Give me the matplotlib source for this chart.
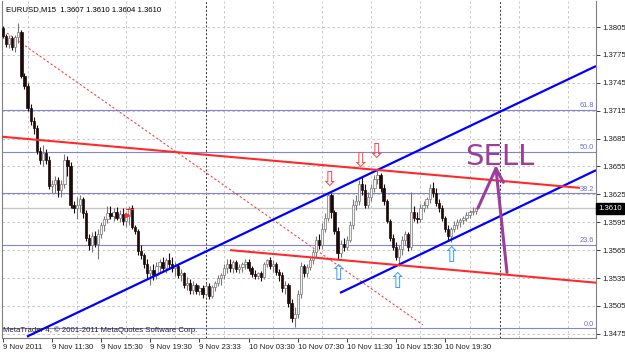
import matplotlib

matplotlib.use("Agg")
import matplotlib.pyplot as plt
import matplotlib.transforms as mtransforms
import numpy as np

# EURUSD M15, 9 Nov 07:30 .. 10 Nov 22:00, one entry per bar
opens = [1.3804, 1.3795, 1.3787, 1.3793, 1.3784, 1.3794, 1.3800, 1.3752, 1.3742, 1.3718,
         1.3704, 1.3696, 1.3672, 1.3662, 1.3670, 1.3662, 1.3634, 1.3636, 1.3640, 1.3630,
         1.3636, 1.3662, 1.3655, 1.3614, 1.3610, 1.3614, 1.3620, 1.3605, 1.3578, 1.3570,
         1.3580, 1.3572, 1.3582, 1.3592, 1.3598, 1.3605, 1.3602, 1.3606, 1.3600, 1.3604,
         1.3596, 1.3602, 1.3610, 1.3590, 1.3586, 1.3564, 1.3560, 1.3550, 1.3540, 1.3544,
         1.3538, 1.3548, 1.3552, 1.3546, 1.3554, 1.3550, 1.3546, 1.3548, 1.3538, 1.3540,
         1.3528, 1.3530, 1.3522, 1.3528, 1.3521, 1.3524, 1.3518, 1.3526, 1.3516, 1.3525,
         1.3530, 1.3535, 1.3538, 1.3546, 1.3550, 1.3546, 1.3552, 1.3545, 1.3547, 1.3550,
         1.3552, 1.3546, 1.3539, 1.3537, 1.3540, 1.3536, 1.3550, 1.3554, 1.3548, 1.3550,
         1.3542, 1.3538, 1.3524, 1.3528, 1.3508, 1.3492, 1.3496, 1.3518, 1.3548, 1.3540,
         1.3547, 1.3554, 1.3563, 1.3576, 1.3570, 1.3588, 1.3600, 1.3624, 1.3606, 1.3586,
         1.3562, 1.3572, 1.3568, 1.3576, 1.3592, 1.3614, 1.3618, 1.3636, 1.3630, 1.3614,
         1.3622, 1.3632, 1.3642, 1.3646, 1.3632, 1.3618, 1.3596, 1.3578, 1.3568, 1.3558,
         1.3566, 1.3576, 1.3582, 1.3568, 1.3606, 1.3600, 1.3598, 1.3610, 1.3614, 1.3620,
         1.3632, 1.3626, 1.3616, 1.3610, 1.3600, 1.3588, 1.3580, 1.3588, 1.3592, 1.3595,
         1.3597, 1.3600, 1.3603, 1.3606, 1.3607]
highs = [1.3806, 1.3798, 1.3796, 1.3795, 1.3796, 1.3809, 1.3802, 1.3756, 1.3745, 1.3722,
         1.3708, 1.3700, 1.3676, 1.3678, 1.3674, 1.3666, 1.3640, 1.3645, 1.3644, 1.3640,
         1.3668, 1.3666, 1.3660, 1.3618, 1.3622, 1.3624, 1.3622, 1.3608, 1.3582, 1.3584,
         1.3586, 1.3588, 1.3595, 1.3602, 1.3612, 1.3613, 1.3610, 1.3611, 1.3608, 1.3610,
         1.3605, 1.3613, 1.3614, 1.3592, 1.3588, 1.3570, 1.3562, 1.3555, 1.3548, 1.3550,
         1.3552, 1.3556, 1.3558, 1.3557, 1.3562, 1.3558, 1.3552, 1.3550, 1.3545, 1.3542,
         1.3536, 1.3534, 1.3532, 1.3530, 1.3528, 1.3528, 1.3530, 1.3530, 1.3528, 1.3532,
         1.3538, 1.3540, 1.3550, 1.3555, 1.3556, 1.3554, 1.3554, 1.3550, 1.3552, 1.3556,
         1.3556, 1.3548, 1.3544, 1.3542, 1.3543, 1.3552, 1.3556, 1.3558, 1.3554, 1.3552,
         1.3545, 1.3541, 1.3532, 1.3530, 1.3512, 1.3504, 1.3522, 1.3552, 1.3550, 1.3550,
         1.3558, 1.3566, 1.3580, 1.3582, 1.3594, 1.3605, 1.3628, 1.3626, 1.3608, 1.3590,
         1.3576, 1.3578, 1.3580, 1.3596, 1.3620, 1.3624, 1.3640, 1.3644, 1.3636, 1.3628,
         1.3636, 1.3646, 1.3652, 1.3648, 1.3636, 1.3620, 1.3598, 1.3582, 1.3574, 1.3570,
         1.3580, 1.3586, 1.3584, 1.3628, 1.3612, 1.3606, 1.3615, 1.3618, 1.3622, 1.3636,
         1.3638, 1.3632, 1.3620, 1.3614, 1.3602, 1.3592, 1.3590, 1.3596, 1.3598, 1.3600,
         1.3602, 1.3606, 1.3608, 1.3611, 1.3610]
lows = [1.3793, 1.3783, 1.3782, 1.3780, 1.3778, 1.3788, 1.3750, 1.3738, 1.3715, 1.3700,
        1.3690, 1.3668, 1.3658, 1.3655, 1.3658, 1.3631, 1.3626, 1.3626, 1.3622, 1.3622,
        1.3632, 1.3645, 1.3610, 1.3605, 1.3598, 1.3606, 1.3600, 1.3575, 1.3565, 1.3563,
        1.3568, 1.3556, 1.3578, 1.3586, 1.3594, 1.3598, 1.3596, 1.3597, 1.3595, 1.3592,
        1.3590, 1.3592, 1.3588, 1.3582, 1.3560, 1.3555, 1.3546, 1.3535, 1.3528, 1.3533,
        1.3534, 1.3540, 1.3542, 1.3540, 1.3545, 1.3542, 1.3537, 1.3535, 1.3532, 1.3524,
        1.3522, 1.3518, 1.3518, 1.3518, 1.3517, 1.3514, 1.3516, 1.3512, 1.3514, 1.3521,
        1.3526, 1.3528, 1.3534, 1.3540, 1.3542, 1.3540, 1.3542, 1.3540, 1.3541, 1.3545,
        1.3543, 1.3536, 1.3534, 1.3534, 1.3532, 1.3534, 1.3547, 1.3545, 1.3542, 1.3538,
        1.3532, 1.3520, 1.3518, 1.3504, 1.3488, 1.3482, 1.3492, 1.3514, 1.3536, 1.3536,
        1.3544, 1.3550, 1.3558, 1.3566, 1.3566, 1.3584, 1.3596, 1.3600, 1.3582, 1.3555,
        1.3558, 1.3564, 1.3565, 1.3574, 1.3588, 1.3608, 1.3614, 1.3624, 1.3610, 1.3610,
        1.3618, 1.3628, 1.3636, 1.3628, 1.3614, 1.3594, 1.3575, 1.3565, 1.3554, 1.3548,
        1.3560, 1.3570, 1.3564, 1.3565, 1.3596, 1.3594, 1.3595, 1.3606, 1.3610, 1.3616,
        1.3622, 1.3612, 1.3606, 1.3596, 1.3585, 1.3576, 1.3574, 1.3584, 1.3588, 1.3590,
        1.3593, 1.3596, 1.3600, 1.3603, 1.3604]
closes = [1.3795, 1.3787, 1.3793, 1.3784, 1.3794, 1.3800, 1.3752, 1.3742, 1.3718, 1.3704,
          1.3696, 1.3672, 1.3662, 1.3670, 1.3662, 1.3634, 1.3636, 1.3640, 1.3630, 1.3636,
          1.3662, 1.3655, 1.3614, 1.3610, 1.3614, 1.3620, 1.3605, 1.3578, 1.3570, 1.3580,
          1.3572, 1.3582, 1.3592, 1.3598, 1.3605, 1.3602, 1.3606, 1.3600, 1.3604, 1.3596,
          1.3602, 1.3610, 1.3590, 1.3586, 1.3564, 1.3560, 1.3550, 1.3540, 1.3544, 1.3538,
          1.3548, 1.3552, 1.3546, 1.3554, 1.3550, 1.3546, 1.3548, 1.3538, 1.3540, 1.3528,
          1.3530, 1.3522, 1.3528, 1.3521, 1.3524, 1.3518, 1.3526, 1.3516, 1.3525, 1.3530,
          1.3535, 1.3538, 1.3546, 1.3550, 1.3546, 1.3552, 1.3545, 1.3547, 1.3550, 1.3552,
          1.3546, 1.3539, 1.3537, 1.3540, 1.3536, 1.3550, 1.3554, 1.3548, 1.3550, 1.3542,
          1.3538, 1.3524, 1.3528, 1.3508, 1.3492, 1.3496, 1.3518, 1.3548, 1.3540, 1.3547,
          1.3554, 1.3563, 1.3576, 1.3570, 1.3588, 1.3600, 1.3624, 1.3606, 1.3586, 1.3562,
          1.3572, 1.3568, 1.3576, 1.3592, 1.3614, 1.3618, 1.3636, 1.3630, 1.3614, 1.3622,
          1.3632, 1.3642, 1.3646, 1.3632, 1.3618, 1.3596, 1.3578, 1.3568, 1.3558, 1.3566,
          1.3576, 1.3582, 1.3568, 1.3606, 1.3600, 1.3598, 1.3610, 1.3614, 1.3620, 1.3632,
          1.3626, 1.3616, 1.3610, 1.3600, 1.3588, 1.3580, 1.3588, 1.3592, 1.3595, 1.3597,
          1.3600, 1.3603, 1.3606, 1.3607, 1.3610]

time_labels = ["9 Nov 2011", "9 Nov 11:30", "9 Nov 15:30", "9 Nov 19:30", "9 Nov 23:33",
               "10 Nov 03:30", "10 Nov 07:30", "10 Nov 11:30", "10 Nov 15:30", "10 Nov 19:30"]
time_label_bars = [0, 16, 32, 48, 64, 80, 96, 112, 128, 144]
day_separator_bars = [66, 162]
price_ticks = [1.3475, 1.3505, 1.3535, 1.3565, 1.3595, 1.3625,
               1.3655, 1.3685, 1.3715, 1.3745, 1.3775, 1.3805]

fib_names = ["0.0", "23.6", "38.2", "50.0", "61.8"]
fib_prices = [1.3481, 1.3571, 1.3626, 1.3671, 1.3716]

# trend lines as (bar, price) anchor pairs
blue_lines = [((7.8, 1.3472), (193.2, 1.3763)), ((109.8, 1.3519), (193.2, 1.3651))]
red_lines = [((-0.3, 1.3687), (188.0, 1.3632)), ((74.0, 1.3565), (193.2, 1.3530))]
red_dashed = ((1.3, 1.37985), (136.8, 1.34846))

sell_arrows_at = [(106.2, 1.3641), (116.3, 1.3661), (121.5, 1.3671)]
buy_arrows_at = [(109.1, 1.3539), (128.3, 1.3531), (145.9, 1.3559)]

header = "EURUSD,M15  1.3607 1.3610 1.3604 1.3610"
footer = "MetaTrader 4, \u00a9 2001-2011 MetaQuotes Software Corp."
last_price = 1.3610

FONT = "Liberation Sans"
BULL_EDGE = "#777777"
BULL_FACE = "#f4f4f4"
BEAR_COLOR = "#1c0a0a"
PURPLE = "#9c3f9c"


def draw_candles(ax):
    o = np.array(opens)
    h = np.array(highs)
    l = np.array(lows)
    c = np.array(closes)
    x = np.arange(len(o))
    up = c >= o

    ax.vlines(x[up], l[up], h[up], color=BULL_EDGE, lw=0.8, zorder=3)
    ax.vlines(x[~up], l[~up], h[~up], color=BEAR_COLOR, lw=0.8, zorder=3)

    body = np.maximum(np.abs(c - o), 0.00005)
    bottom = np.minimum(o, c)
    ax.bar(x[up], body[up], bottom=bottom[up], width=0.74, color=BULL_FACE,
           edgecolor=BULL_EDGE, linewidth=0.5, zorder=4)
    ax.bar(x[~up], body[~up], bottom=bottom[~up], width=0.74, color=BEAR_COLOR,
           edgecolor=BEAR_COLOR, linewidth=0.5, zorder=4)


def main() -> int:
    fig = plt.figure(figsize=(6.25, 3.53), dpi=100)
    ax = fig.add_axes([2 / 625, 15 / 353, 594 / 625, 337 / 353])

    ax.set_xlim(-0.33, 193.2)
    ax.set_ylim(1.34705, 1.38330)

    # grid
    for p in price_ticks:
        ax.axhline(p, color="#c0c0c0", lw=0.6, dashes=(3, 3), zorder=1)
    for b in range(8, 193, 16):
        ax.axvline(b, color="#c0c0c0", lw=0.6, dashes=(3, 3), zorder=1)
    for b in day_separator_bars:
        ax.axvline(b, color="#303030", lw=0.7, dashes=(2, 2), zorder=1)

    # fibonacci levels
    for name, p in zip(fib_names, fib_prices):
        ax.axhline(p, color="#8282e0", lw=0.8, zorder=2)
        ax.text(192.6, p + 0.00005, name, ha="right", va="bottom", fontsize=5.3,
                family=FONT, color="#6a6ad8", zorder=6)

    ax.axhline(last_price, color="#c8c8c8", lw=1.0, zorder=2)

    draw_candles(ax)

    for (x0, y0), (x1, y1) in blue_lines:
        ax.plot([x0, x1], [y0, y1], color="#0000ff", lw=1.6, zorder=5, solid_capstyle="butt")
    for (x0, y0), (x1, y1) in red_lines:
        ax.plot([x0, x1], [y0, y1], color="#ff2a2a", lw=1.5, zorder=5, solid_capstyle="butt")
    (x0, y0), (x1, y1) = red_dashed
    ax.plot([x0, x1], [y0, y1], color="#ff4040", lw=0.8, dashes=(2, 2), zorder=2)

    # small red arrow object
    ax.plot([40.0, 42.2], [1.3609, 1.3609], color="#ff3030", lw=0.9, zorder=6)
    ax.plot([40.4], [1.3603], marker=">", color="#ff3030", ms=3, zorder=6)

    for bx, p in sell_arrows_at:
        ax.text(bx, p, "\u21e9", ha="center", va="center", fontsize=15,
                family="DejaVu Sans", color="#ff4a4a", zorder=7)
    for bx, p in buy_arrows_at:
        ax.text(bx, p, "\u21e7", ha="center", va="center", fontsize=15,
                family="DejaVu Sans", color="#3aa0ff", zorder=7)

    # hand drawn SELL note
    ax.text(161.8, 1.3665, "SELL", ha="center", va="center", fontsize=21,
            family="DejaVu Sans", color=PURPLE, zorder=8)
    ax.plot([164.2, 160.6], [1.3541, 1.3653], color=PURPLE, lw=2.2, zorder=8,
            solid_capstyle="round")
    ax.plot([154.7, 160.6, 163.0], [1.3610, 1.3653, 1.3638], color=PURPLE, lw=2.2,
            zorder=8, solid_capstyle="round", solid_joinstyle="round")

    # axes styling in the MetaTrader manner
    ax.spines["top"].set_visible(False)
    for side in ("left", "right", "bottom"):
        ax.spines[side].set_color("#808080")
        ax.spines[side].set_linewidth(0.8)

    ax.yaxis.tick_right()
    ax.set_yticks(price_ticks)
    ax.set_yticklabels([f"{p:.4f}" for p in price_ticks])
    ax.tick_params(axis="y", direction="out", length=3, pad=1.5, labelsize=5.6,
                   colors="#202020", width=0.6)
    ax.set_xticks(time_label_bars)
    ax.set_xticklabels(time_labels, ha="left")
    ax.tick_params(axis="x", direction="out", length=3, pad=1.5, labelsize=5.6,
                   colors="#202020", width=0.6)
    for lbl in ax.get_xticklabels() + ax.get_yticklabels():
        lbl.set_family(FONT)

    trans = mtransforms.blended_transform_factory(ax.transAxes, ax.transData)
    ax.text(1.004, last_price, "1.3610", transform=trans, ha="left", va="center",
            fontsize=5.6, family=FONT, color="white", zorder=9, clip_on=False,
            bbox=dict(boxstyle="square,pad=0.25", fc="black", ec="black"))

    ax.text(0.006, 0.985, header, transform=ax.transAxes, ha="left", va="top",
            fontsize=5.6, family=FONT, color="black", zorder=9)
    ax.text(0.002, 0.022, footer, transform=ax.transAxes, ha="left", va="center",
            fontsize=5.6, family=FONT, color="#202020", zorder=9)

    fig.savefig("out.png", dpi=100, facecolor="white")
    plt.close(fig)
    return 0


if __name__ == "__main__":
    raise SystemExit(main())
